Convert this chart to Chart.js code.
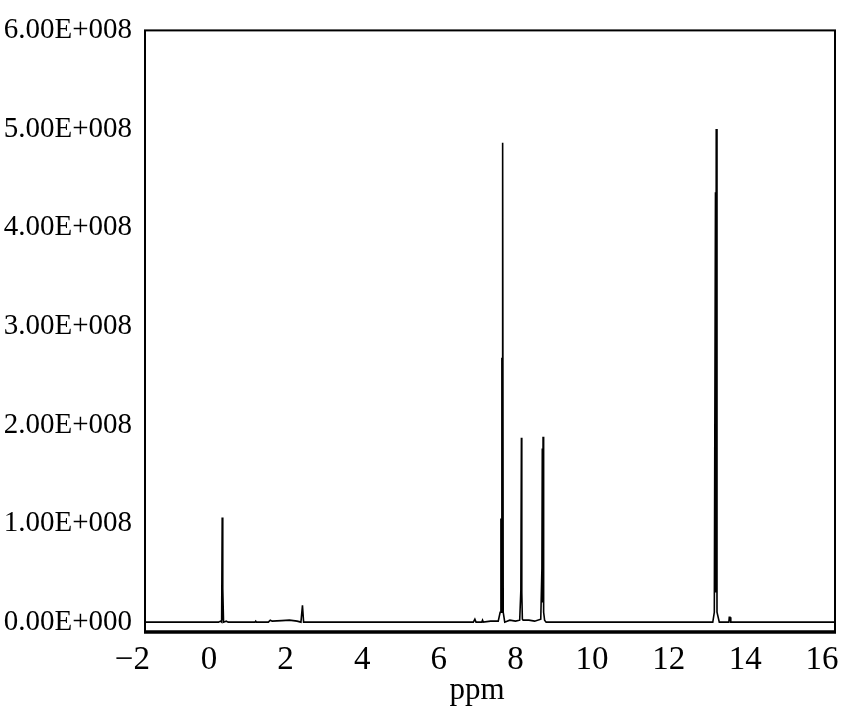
<!DOCTYPE html>
<html>
<head>
<meta charset="utf-8">
<script src="https://cdn.jsdelivr.net/npm/chart.js@4.4.1/dist/chart.umd.min.js"></script>
<style>
  body { margin: 0; background: #fff; }
  canvas { display: block; }
</style>
</head>
<body>
<canvas id="nmr" width="850" height="715"></canvas>
<script>
// chemical shift (ppm) and intensity
var shift = [-1.67, 0.25, 0.30, 0.33, 0.345, 0.355, 0.365, 0.38, 0.45, 0.5,
  1.2, 1.22, 1.24, 1.55, 1.6, 1.65, 1.9, 2.1, 2.3, 2.4, 2.44, 2.47, 2.55,
  6.9, 6.94, 6.97, 7.12, 7.14, 7.16, 7.35, 7.55, 7.6, 7.62, 7.63, 7.645, 7.655, 7.665, 7.68, 7.72,
  7.85, 8.0, 8.11, 8.14, 8.155, 8.165, 8.18, 8.2, 8.35, 8.5,
  8.66, 8.69, 8.70, 8.71, 8.72, 8.735, 8.76, 8.8,
  13.15, 13.19, 13.22, 13.23, 13.24, 13.26, 13.32, 13.57, 13.58, 13.6, 13.62, 16.34];
var intensity = [0, 0, 0.01e8, 0, 1.06e8, 0.02e8, 0.34e8, 0, 0.01e8, 0,
  0, 0.01e8, 0, 0, 0.02e8, 0.01e8, 0.015e8, 0.02e8, 0.01e8, 0, 0.17e8, 0, 0,
  0, 0.03e8, 0, 0, 0.02e8, 0, 0.01e8, 0.01e8, 0.1e8, 1.05e8, 0.1e8, 2.68e8, 0.15e8, 4.86e8, 0.1e8, 0,
  0.02e8, 0.01e8, 0.02e8, 0.32e8, 1.87e8, 0.3e8, 0.03e8, 0.02e8, 0.02e8, 0.01e8,
  0.03e8, 0.55e8, 1.76e8, 0.2e8, 1.88e8, 0.1e8, 0.02e8, 0,
  0, 0.1e8, 4.36e8, 0.3e8, 5.0e8, 0.1e8, 0, 0, 0.05e8, 0.05e8, 0, 0];

var xTicks = [-2, 0, 2, 4, 6, 8, 10, 12, 14, 16];
var yTicks = [0, 1e8, 2e8, 3e8, 4e8, 5e8, 6e8];
var xTitle = "ppm";

var points = [];
for (var i = 0; i < shift.length; i++) {
  points.push({ x: shift[i], y: intensity[i] });
}

var serif = "'Liberation Serif', 'Times New Roman', serif";

// frame around plot + axis title centred under the tick labels
var framePlugin = {
  id: "frame",
  afterDraw: function (chart) {
    var ctx = chart.ctx;
    var a = chart.chartArea;
    ctx.save();
    ctx.strokeStyle = "#000";
    ctx.lineWidth = 2;
    ctx.strokeRect(a.left, a.top, a.right - a.left, a.bottom - a.top);
    ctx.lineWidth = 3.5;
    ctx.beginPath();
    ctx.moveTo(a.left - 1, a.bottom);
    ctx.lineTo(a.right + 1, a.bottom);
    ctx.stroke();
    var sx = chart.scales.x;
    var cx = (sx.getPixelForValue(xTicks[0]) + sx.getPixelForValue(xTicks[xTicks.length - 1])) / 2;
    ctx.fillStyle = "#000";
    ctx.font = "31px " + serif;
    ctx.textAlign = "center";
    ctx.textBaseline = "middle";
    ctx.fillText(xTitle, cx, 691);
    ctx.restore();
  }
};

var ctx = document.getElementById("nmr").getContext("2d");
var spectrum = new Chart(ctx, {
  type: "line",
  data: {
    datasets: [{
      data: points,
      borderColor: "#000",
      borderWidth: 1.6,
      pointRadius: 0,
      tension: 0,
      fill: false
    }]
  },
  options: {
    responsive: false,
    animation: false,
    layout: { padding: { left: 0, right: 15, top: 25, bottom: 0 } },
    plugins: {
      legend: { display: false },
      tooltip: { enabled: false }
    },
    scales: {
      x: {
        type: "linear",
        min: -1.67,
        max: 16.34,
        grid: { display: false, drawTicks: false },
        border: { display: false },
        afterBuildTicks: function (scale) {
          scale.ticks = xTicks.map(function (v) { return { value: v }; });
        },
        afterFit: function (scale) { scale.height = 83; },
        ticks: {
          color: "#000",
          padding: 9,
          maxRotation: 0,
          autoSkip: false,
          font: { family: serif, size: 33 },
          callback: function (v) { return v < 0 ? "\u2212" + Math.abs(v) : String(v); }
        }
      },
      y: {
        min: -0.1e8,
        max: 6e8,
        grid: { display: false, drawTicks: false },
        border: { display: false },
        afterBuildTicks: function (scale) {
          scale.ticks = yTicks.map(function (v) { return { value: v }; });
        },
        afterFit: function (scale) { scale.width = 145; },
        ticks: {
          color: "#000",
          padding: 13,
          autoSkip: false,
          font: { family: serif, size: 29 },
          callback: function (v) {
            if (v === 0) return "0.00E+000";
            return (v / 1e8).toFixed(2) + "E+008";
          }
        }
      }
    }
  },
  plugins: [framePlugin]
});
</script>
</body>
</html>
